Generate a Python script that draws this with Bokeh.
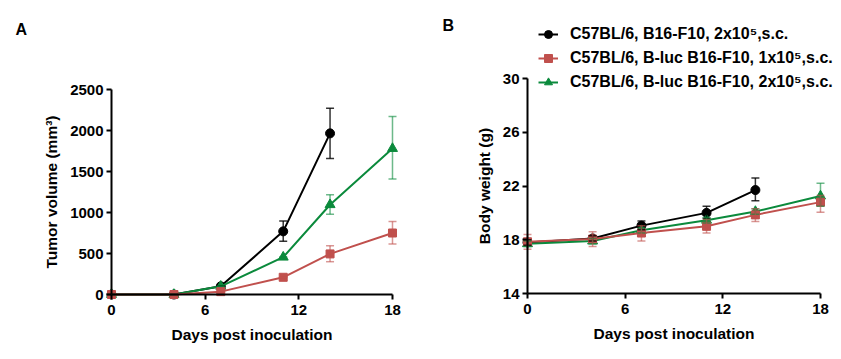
from bokeh.plotting import figure
from bokeh.layouts import row
from bokeh.models import (ColumnDataSource, Whisker, TeeHead, Range1d, FixedTicker,
                          Legend, LegendItem, Label)
from bokeh.embed import file_html
from bokeh.resources import INLINE

# ---- data ----
days = [0, 4, 7, 11, 14, 18]
days_black = [0, 4, 7, 11, 14]

# Panel A: tumor volume (mm3)
tv_black = [0, 0, 100, 770, 1965]
tv_black_lo = [0, 0, 100, 650, 1660]
tv_black_hi = [0, 0, 100, 895, 2270]
tv_red = [0, 0, 35, 210, 495, 750]
tv_red_lo = [0, 0, 35, 210, 400, 615]
tv_red_hi = [0, 0, 35, 210, 595, 890]
tv_green = [0, 0, 100, 455, 1095, 1780]
tv_green_lo = [0, 0, 100, 455, 980, 1410]
tv_green_hi = [0, 0, 100, 455, 1215, 2170]

# Panel B: body weight (g)
bw_black = [17.8, 18.1, 19.05, 20.0, 21.7]
bw_black_lo = [17.6, 17.9, 18.75, 19.6, 20.9]
bw_black_hi = [18.0, 18.3, 19.4, 20.5, 22.6]
bw_red = [17.85, 18.05, 18.5, 19.0, 19.85, 20.8]
bw_red_lo = [17.3, 17.5, 17.9, 18.5, 19.35, 20.05]
bw_red_hi = [18.4, 18.6, 19.05, 19.5, 20.3, 21.3]
bw_green = [17.7, 17.9, 18.7, 19.45, 20.1, 21.25]
bw_green_lo = [17.5, 17.7, 18.5, 19.25, 19.9, 20.5]
bw_green_hi = [17.9, 18.1, 18.9, 19.65, 20.3, 22.2]

x_ticks = [0, 6, 12, 18]
tv_ticks = [0, 500, 1000, 1500, 2000, 2500]
bw_ticks = [14, 18, 22, 26, 30]

legend_labels = ["C57BL/6, B16-F10, 2x10\u2075,s.c.",
                 "C57BL/6, B-luc B16-F10, 1x10\u2075,s.c.",
                 "C57BL/6, B-luc B16-F10, 2x10\u2075,s.c."]

BLACK = "#000000"
RED = "#c0504d"
GREEN = "#0b8a3c"
FONT = "Liberation Sans"


def style(p, ylabel, xb, yb):
    p.xgrid.visible = False
    p.ygrid.visible = False
    p.outline_line_color = None
    for ax in (p.xaxis[0], p.yaxis[0]):
        ax.axis_line_width = 2
        ax.major_tick_line_width = 2
        ax.major_tick_out = 5
        ax.major_tick_in = 0
        ax.minor_tick_line_color = None
        ax.major_label_text_font = FONT
        ax.major_label_text_font_style = "bold"
        ax.major_label_text_font_size = "15px"
        ax.major_label_text_color = "black"
        ax.axis_label_text_font = FONT
        ax.axis_label_text_font_style = "bold"
        ax.axis_label_text_font_size = "15.5px"
        ax.axis_label_text_color = "black"
    p.xaxis[0].axis_label = "Days post inoculation"
    p.yaxis[0].axis_label = ylabel
    p.xaxis[0].major_label_standoff = 5
    p.xaxis[0].axis_label_standoff = 8
    p.yaxis[0].major_label_standoff = 3
    p.yaxis[0].axis_label_standoff = 7
    p.xaxis[0].ticker = FixedTicker(ticks=x_ticks)
    p.xaxis[0].bounds = (x_ticks[0], x_ticks[-1])
    p.yaxis[0].bounds = (yb[0], yb[-1])
    p.xaxis[0].fixed_location = yb[0]
    p.yaxis[0].fixed_location = x_ticks[0]
    p.yaxis[0].ticker = FixedTicker(ticks=yb)


def series(p, x, y, lo, hi, color, marker, size, ebar_alpha):
    src = ColumnDataSource(dict(x=x, y=y, lo=lo, hi=hi))
    w = Whisker(base="x", upper="hi", lower="lo", source=src, dimension="height",
                line_color=color, line_width=1.5, line_alpha=ebar_alpha,
                upper_head=TeeHead(size=8, line_color=color, line_width=1.5, line_alpha=ebar_alpha),
                lower_head=TeeHead(size=8, line_color=color, line_width=1.5, line_alpha=ebar_alpha))
    w.level = "glyph"
    p.add_layout(w)
    ln = p.line("x", "y", source=src, line_color=color, line_width=2)
    sc = p.scatter("x", "y", source=src, marker=marker, size=size,
                   fill_color=color, line_color=color)
    return ln, sc


# ---- Panel A ----
# frame covers the whole figure; axes sit at fixed data locations
pA = figure(width=420, height=348, output_backend="svg", toolbar_location=None,
            x_range=Range1d(-7.110, 19.794), y_range=Range1d(-658.5, 3585.4),
            min_border=0)
style(pA, "Tumor volume (mm\u00b3)", x_ticks, tv_ticks)
series(pA, days_black, tv_black, tv_black_lo, tv_black_hi, BLACK, "circle", 9, 0.8)
series(pA, days, tv_green, tv_green_lo, tv_green_hi, GREEN, "triangle", 10, 0.6)
series(pA, days, tv_red, tv_red_lo, tv_red_hi, RED, "square", 8, 0.6)
pA.add_layout(Label(x=-6.15, y=3232, text="A", text_font=FONT, text_font_style="bold",
                    text_font_size="16px", text_baseline="alphabetic", text_color="black"))

# ---- Panel B ----
pB = figure(width=420, height=348, output_backend="svg", toolbar_location=None,
            x_range=Range1d(-6.573, 19.229), y_range=Range1d(9.907, 35.805),
            min_border=0)
style(pB, "Body weight (g)", x_ticks, bw_ticks)
bl, bs = series(pB, days_black, bw_black, bw_black_lo, bw_black_hi, BLACK, "circle", 9, 0.8)
gl, gs = series(pB, days, bw_green, bw_green_lo, bw_green_hi, GREEN, "triangle", 10, 0.6)
rl, rs = series(pB, days, bw_red, bw_red_lo, bw_red_hi, RED, "square", 8, 0.6)
pB.add_layout(Label(x=-5.22, y=33.94, text="B", text_font=FONT, text_font_style="bold",
                    text_font_size="16px", text_baseline="alphabetic", text_color="black"))

legend = Legend(items=[LegendItem(label=legend_labels[0], renderers=[bl, bs]),
                       LegendItem(label=legend_labels[1], renderers=[rl, rs]),
                       LegendItem(label=legend_labels[2], renderers=[gl, gs])],
                location=(118, 256), orientation="vertical",
                background_fill_alpha=0, border_line_color=None,
                padding=0, margin=0, spacing=4,
                glyph_width=20, glyph_height=20, label_height=20,
                label_standoff=12,
                label_text_font=FONT, label_text_font_style="bold",
                label_text_font_size="16px", label_text_color="black")
pB.add_layout(legend, "center")

layout = row(pA, pB)
open("out.html", "w").write(file_html(layout, INLINE))
